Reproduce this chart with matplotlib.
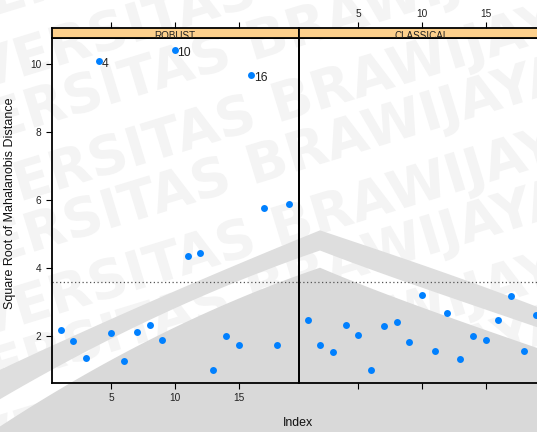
import matplotlib
matplotlib.use('Agg')
import matplotlib.pyplot as plt
from matplotlib.textpath import TextPath
from matplotlib.patches import PathPatch
from matplotlib.font_manager import FontProperties
from matplotlib.transforms import Affine2D
import numpy as np

# ---------------- data ----------------
index = list(range(1, 20))
robust = [2.18, 1.86, 1.37, 10.09, 2.09, 1.26, 2.11, 2.33, 1.88, 10.40,
          4.37, 4.44, 1.02, 2.00, 1.74, 9.67, 5.76, 1.75, 5.89]
classical = [2.47, 1.73, 1.54, 2.33, 2.05, 1.01, 2.29, 2.41, 1.84, 3.22,
             1.57, 2.69, 1.33, 2.00, 1.90, 2.48, 3.17, 1.56, 2.62]
panel_names = ['ROBUST', 'CLASSICAL']
cutoff = 3.58
labelled = [4, 10, 16]
xticks = [5, 10, 15]
yticks = [2, 4, 6, 8, 10]
ylabel = 'Square Root of Mahalanobis Distance'
xlabel = 'Index'

plt.rcParams['font.family'] = ['Liberation Sans', 'DejaVu Sans']

W, H = 537, 432
fig = plt.figure(figsize=(W / 100, H / 100), dpi=100)
fig.patch.set_facecolor('white')


def rect(l, t, r, b):
    return [l / W, 1 - b / H, (r - l) / W, (b - t) / H]


# ---------------- watermark background (decorative shapes) ----------------
bg = fig.add_axes([0, 0, 1, 1], zorder=0)
bg.set_xlim(0, W)
bg.set_ylim(H, 0)
bg.axis('off')

wm = 'UNIVERSITAS BRAWIJAYA UNIVERSITAS BRAWIJAYA UNIVERSITAS'
fp = FontProperties(family='DejaVu Sans', weight='heavy')
base = TextPath((0, 0), wm, size=54, prop=fp)
for k in range(-3, 9):
    tr = Affine2D().scale(1, -1).rotate_deg(-17).translate(-150 + 25 * (k % 2), 60 + 62 * k)
    p = tr.transform_path(base)
    bg.add_patch(PathPatch(p, facecolor='#F4F4F4', edgecolor='none', zorder=0.5))


def smooth_edge(pts, peak_x=320):
    """Smooth roof-shaped curve through rough points (quadratic on each side)."""
    pts = np.array(pts, float)
    left = pts[pts[:, 0] <= peak_x]
    right = pts[pts[:, 0] >= peak_x]
    cl = np.polyfit(left[:, 0], left[:, 1], 2)
    cr = np.polyfit(right[:, 0], right[:, 1], 2)
    xl = np.linspace(0, peak_x, 80)
    xr = np.linspace(peak_x, W, 80)
    yl = np.polyval(cl, xl)
    yr = np.polyval(cr, xr)
    ypk = min(yl[-1], yr[0])
    yl = yl - (yl[-1] - ypk) * np.linspace(0, 1, 80) ** 4
    yr = yr - (yr[0] - ypk) * np.linspace(1, 0, 80) ** 4
    return np.concatenate([xl, xr[1:]]), np.concatenate([yl, yr[1:]])


A = [(0, 368), (52, 348), (160, 300), (230, 263), (320, 232), (400, 258), (480, 285), (537, 307)]
B = [(0, 396), (52, 374), (160, 318), (230, 278), (320, 253), (400, 280), (480, 308), (537, 327)]
C = [(0, 422), (52, 400), (160, 338), (230, 294), (320, 271), (400, 300), (480, 328), (537, 348)]
ax_, ay_ = smooth_edge(A)
bx_, by_ = smooth_edge(B)
cx_, cy_ = smooth_edge(C)
bg.fill(np.concatenate([ax_, bx_[::-1]]), np.concatenate([ay_, by_[::-1]]),
        color='#DEDEDE', lw=0, zorder=1)
bg.fill(np.concatenate([cx_, [W, 0]]), np.concatenate([cy_, [H, H]]),
        color='#D9D9D9', lw=0, zorder=1)

# ---------------- panels ----------------
xlim = (0.28, 19.72)
ylim = (0.634, 10.776)
panel_px = [(51.5, 298.5), (298.5, 545.5)]
top, bottom, strip_top = 37.5, 382.7, 28.0
series = [robust, classical]
lw_frame = 1.3
tick_len = 4.3
tick_w = 0.8

for i, (l, r) in enumerate(panel_px):
    ax = fig.add_axes(rect(l, top, r, bottom), zorder=2)
    ax.set_facecolor('none')
    ax.set_xlim(*xlim)
    ax.set_ylim(*ylim)
    for s in ax.spines.values():
        s.set_linewidth(lw_frame)
        s.set_color('black')
    ax.axhline(cutoff, color='#555555', lw=0.9, ls=(0, (1, 2)), zorder=1)
    ax.plot(index, series[i], 'o', color='#0080FF', ms=5, mec='none', zorder=3)
    if i == 0:
        for idx in labelled:
            ax.annotate(str(idx), (idx, series[i][idx - 1]), xytext=(1.8, -2.2),
                        textcoords='offset points', ha='left', va='center',
                        fontsize=8.7, color='#222222')
    ax.set_xticks(xticks)
    ax.set_yticks(yticks)
    ax.tick_params(axis='both', direction='out', length=tick_len, width=tick_w,
                   labelsize=7.3, colors='black', labelcolor='#222222', pad=3)
    ax.tick_params(axis='x', top=False, bottom=True, labelbottom=(i == 0))
    ax.tick_params(axis='y', left=(i == 0), right=False, labelleft=(i == 0))
    if i == 0:
        ax.set_ylabel(ylabel, fontsize=9.0, color='#111111')
        ax.yaxis.set_label_coords(-(l - 16) / (r - l), 0.52)

    # strip
    st = fig.add_axes(rect(l, strip_top, r, top), zorder=2)
    st.set_facecolor('#FDD08C')
    st.set_xlim(*xlim)
    st.set_ylim(0, 1)
    st.set_yticks([])
    for s in st.spines.values():
        s.set_linewidth(lw_frame)
        s.set_color('black')
    st.set_xticks(xticks)
    st.tick_params(axis='x', top=True, bottom=False, labelbottom=False,
                   labeltop=(i == 1), direction='out', length=tick_len, width=tick_w,
                   labelsize=7.3, colors='black', labelcolor='#222222', pad=2.5)
    txt = st.text(0.5, -0.18, panel_names[i], transform=st.transAxes, ha='center',
                  va='baseline', fontsize=7.1, color='#222222', clip_on=True)
    txt.set_clip_path(st.patch)

fig.text(298.5 / W, 1 - 423 / H, xlabel, ha='center', va='center', fontsize=8.9,
         color='#111111')

fig.savefig('out.png', dpi=100, facecolor='white')
